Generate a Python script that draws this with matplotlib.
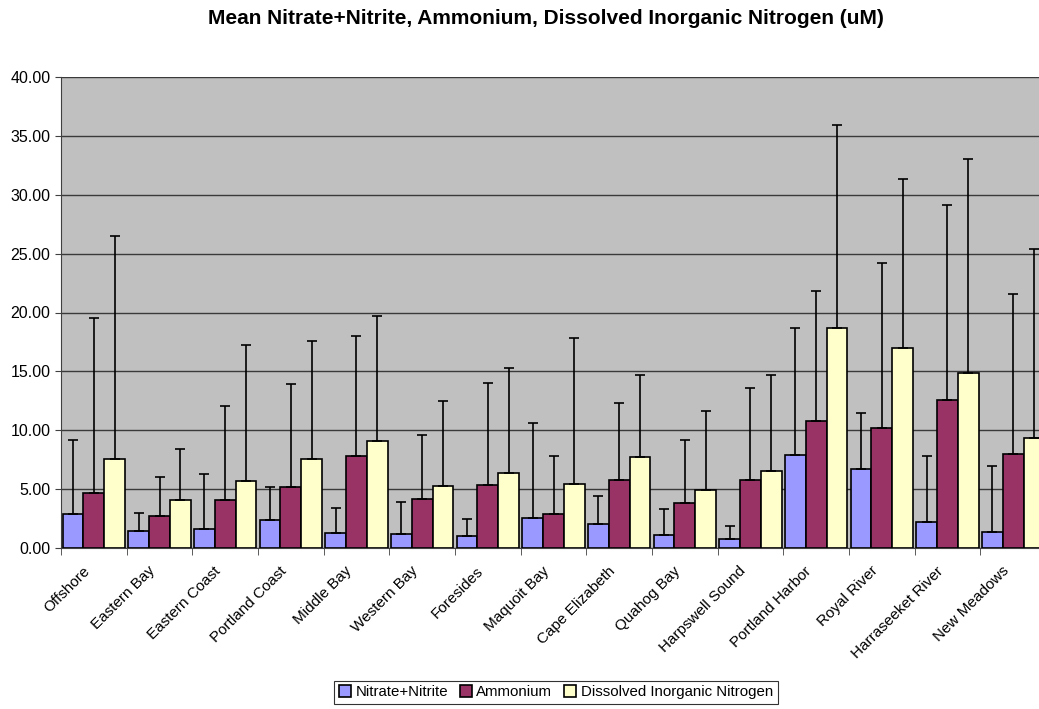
import numpy as np
import matplotlib
matplotlib.use("Agg")
import matplotlib.pyplot as plt
from matplotlib.ticker import FormatStrFormatter, FixedLocator

plt.rcParams["font.family"] = ["Liberation Sans", "DejaVu Sans"]

# Data
sites = ["Offshore", "Eastern Bay", "Eastern Coast", "Portland Coast", "Middle Bay",
         "Western Bay", "Foresides", "Maquoit Bay", "Cape Elizabeth", "Quahog Bay",
         "Harpswell Sound", "Portland Harbor", "Royal River", "Harraseeket River",
         "New Meadows"]
nitrate = [2.9, 1.45, 1.6, 2.4, 1.25, 1.2, 1.0, 2.55, 2.0, 1.1, 0.75, 7.9, 6.75, 2.25, 1.35]
nitrate_top = [9.2, 3.0, 6.3, 5.2, 3.4, 3.9, 2.5, 10.6, 4.45, 3.35, 1.9, 18.7, 11.5, 7.8, 7.0]
ammonium = [4.7, 2.7, 4.05, 5.2, 7.85, 4.15, 5.35, 2.9, 5.8, 3.85, 5.75, 10.8, 10.2, 12.6, 8.0]
ammonium_top = [19.5, 6.0, 12.1, 13.9, 18.0, 9.6, 14.0, 7.8, 12.3, 9.15, 13.6, 21.8, 24.2, 29.1, 21.6]
din = [7.6, 4.1, 5.7, 7.6, 9.1, 5.3, 6.35, 5.45, 7.75, 4.95, 6.5, 18.65, 16.95, 14.85, 9.3]
din_top = [26.5, 8.4, 17.2, 17.6, 19.7, 12.5, 15.3, 17.8, 14.7, 11.6, 14.7, 35.9, 31.3, 33.0, 25.4]

series = [
    ("Nitrate+Nitrite", nitrate, nitrate_top, "#9999FF"),
    ("Ammonium", ammonium, ammonium_top, "#993366"),
    ("Dissolved Inorganic Nitrogen", din, din_top, "#FFFFCC"),
]

fig = plt.figure(figsize=(10.39, 7.09), dpi=100)
ax = fig.add_axes([61 / 1039, 161 / 709, 985 / 1039, 471 / 709])
ax.set_facecolor("#C0C0C0")

x = np.arange(len(sites))
w = 0.315
for i, (name, vals, tops, color) in enumerate(series):
    vals = np.array(vals)
    up = np.array(tops) - vals
    pos = x + (i - 1) * w
    ax.bar(pos, vals, width=w, color=color, edgecolor="black", linewidth=1.2,
           label=name, zorder=3)
    ax.errorbar(pos, vals, yerr=[np.zeros_like(vals), up], fmt="none",
                ecolor="black", elinewidth=1.2, capsize=3.5, capthick=1.2, zorder=4)

ax.set_xlim(-0.5, len(sites) - 0.5)
ax.set_ylim(0, 40)
ax.set_yticks(np.arange(0, 40.1, 5))
ax.yaxis.set_major_formatter(FormatStrFormatter("%.2f"))
ax.yaxis.grid(True, color="#3a3a3a", linewidth=1, zorder=1)
ax.set_axisbelow(True)

# labels sit slightly left of the group centre, like the original
ax.set_xticks(x - 0.1)
ax.set_xticklabels(sites, rotation=45, ha="right", va="center",
                   rotation_mode="anchor", fontsize=11)
ax.xaxis.set_minor_locator(FixedLocator(np.arange(-0.5, len(sites), 1)))
ax.tick_params(axis="x", which="major", length=0, pad=15)
ax.tick_params(axis="x", which="minor", length=5, color="#404040")
ax.tick_params(axis="y", length=4, color="#404040", labelsize=11.5)

for s in ["top", "right"]:
    ax.spines[s].set_visible(False)
for s in ["left", "bottom"]:
    ax.spines[s].set_color("#404040")

fig.suptitle("Mean Nitrate+Nitrite, Ammonium, Dissolved Inorganic Nitrogen (uM)",
             fontsize=15, fontweight="bold", x=546 / 1039, y=0.987)

leg = fig.legend(loc="center", bbox_to_anchor=(556 / 1039, 17 / 709), ncol=3,
                 fontsize=10.8, frameon=True, fancybox=False, edgecolor="black",
                 handlelength=0.8, handleheight=0.8, handletextpad=0.3,
                 columnspacing=0.8, borderpad=0.3)
leg.get_frame().set_linewidth(0.8)

fig.savefig("out.png", dpi=100)
